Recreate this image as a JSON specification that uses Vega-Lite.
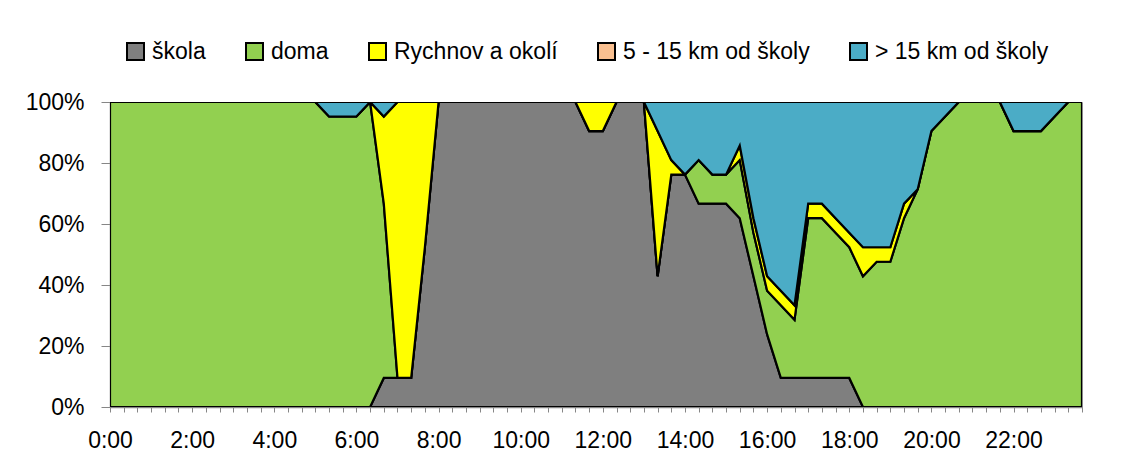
{
  "$schema": "https://vega.github.io/schema/vega-lite/v6.json",
  "width": 972,
  "height": 305,
  "autosize": {"type": "none"},
  "padding": {"left": 110, "top": 102, "right": 48, "bottom": 58},
  "background": "white",
  "config": {
    "font": "Liberation Sans",
    "view": {"stroke": "#8a8a8a", "strokeWidth": 1},
    "axis": {"grid": false, "domainColor": "#868686", "tickColor": "#868686", "labelColor": "black", "labelFontSize": 23, "labelFont": "Liberation Sans", "title": null, "zindex": 1, "domainWidth": 1.5}
  },
  "data": {"values": [
    {"t":"0:00","s":"škola","v":0},{"t":"0:00","s":"doma","v":21},{"t":"0:00","s":"Rychnov a okolí","v":0},{"t":"0:00","s":"5 - 15 km od školy","v":0},{"t":"0:00","s":"> 15 km od školy","v":0},
    {"t":"0:20","s":"škola","v":0},{"t":"0:20","s":"doma","v":21},{"t":"0:20","s":"Rychnov a okolí","v":0},{"t":"0:20","s":"5 - 15 km od školy","v":0},{"t":"0:20","s":"> 15 km od školy","v":0},
    {"t":"0:40","s":"škola","v":0},{"t":"0:40","s":"doma","v":21},{"t":"0:40","s":"Rychnov a okolí","v":0},{"t":"0:40","s":"5 - 15 km od školy","v":0},{"t":"0:40","s":"> 15 km od školy","v":0},
    {"t":"1:00","s":"škola","v":0},{"t":"1:00","s":"doma","v":21},{"t":"1:00","s":"Rychnov a okolí","v":0},{"t":"1:00","s":"5 - 15 km od školy","v":0},{"t":"1:00","s":"> 15 km od školy","v":0},
    {"t":"1:20","s":"škola","v":0},{"t":"1:20","s":"doma","v":21},{"t":"1:20","s":"Rychnov a okolí","v":0},{"t":"1:20","s":"5 - 15 km od školy","v":0},{"t":"1:20","s":"> 15 km od školy","v":0},
    {"t":"1:40","s":"škola","v":0},{"t":"1:40","s":"doma","v":21},{"t":"1:40","s":"Rychnov a okolí","v":0},{"t":"1:40","s":"5 - 15 km od školy","v":0},{"t":"1:40","s":"> 15 km od školy","v":0},
    {"t":"2:00","s":"škola","v":0},{"t":"2:00","s":"doma","v":21},{"t":"2:00","s":"Rychnov a okolí","v":0},{"t":"2:00","s":"5 - 15 km od školy","v":0},{"t":"2:00","s":"> 15 km od školy","v":0},
    {"t":"2:20","s":"škola","v":0},{"t":"2:20","s":"doma","v":21},{"t":"2:20","s":"Rychnov a okolí","v":0},{"t":"2:20","s":"5 - 15 km od školy","v":0},{"t":"2:20","s":"> 15 km od školy","v":0},
    {"t":"2:40","s":"škola","v":0},{"t":"2:40","s":"doma","v":21},{"t":"2:40","s":"Rychnov a okolí","v":0},{"t":"2:40","s":"5 - 15 km od školy","v":0},{"t":"2:40","s":"> 15 km od školy","v":0},
    {"t":"3:00","s":"škola","v":0},{"t":"3:00","s":"doma","v":21},{"t":"3:00","s":"Rychnov a okolí","v":0},{"t":"3:00","s":"5 - 15 km od školy","v":0},{"t":"3:00","s":"> 15 km od školy","v":0},
    {"t":"3:20","s":"škola","v":0},{"t":"3:20","s":"doma","v":21},{"t":"3:20","s":"Rychnov a okolí","v":0},{"t":"3:20","s":"5 - 15 km od školy","v":0},{"t":"3:20","s":"> 15 km od školy","v":0},
    {"t":"3:40","s":"škola","v":0},{"t":"3:40","s":"doma","v":21},{"t":"3:40","s":"Rychnov a okolí","v":0},{"t":"3:40","s":"5 - 15 km od školy","v":0},{"t":"3:40","s":"> 15 km od školy","v":0},
    {"t":"4:00","s":"škola","v":0},{"t":"4:00","s":"doma","v":21},{"t":"4:00","s":"Rychnov a okolí","v":0},{"t":"4:00","s":"5 - 15 km od školy","v":0},{"t":"4:00","s":"> 15 km od školy","v":0},
    {"t":"4:20","s":"škola","v":0},{"t":"4:20","s":"doma","v":21},{"t":"4:20","s":"Rychnov a okolí","v":0},{"t":"4:20","s":"5 - 15 km od školy","v":0},{"t":"4:20","s":"> 15 km od školy","v":0},
    {"t":"4:40","s":"škola","v":0},{"t":"4:40","s":"doma","v":21},{"t":"4:40","s":"Rychnov a okolí","v":0},{"t":"4:40","s":"5 - 15 km od školy","v":0},{"t":"4:40","s":"> 15 km od školy","v":0},
    {"t":"5:00","s":"škola","v":0},{"t":"5:00","s":"doma","v":21},{"t":"5:00","s":"Rychnov a okolí","v":0},{"t":"5:00","s":"5 - 15 km od školy","v":0},{"t":"5:00","s":"> 15 km od školy","v":0},
    {"t":"5:20","s":"škola","v":0},{"t":"5:20","s":"doma","v":20},{"t":"5:20","s":"Rychnov a okolí","v":0},{"t":"5:20","s":"5 - 15 km od školy","v":0},{"t":"5:20","s":"> 15 km od školy","v":1},
    {"t":"5:40","s":"škola","v":0},{"t":"5:40","s":"doma","v":20},{"t":"5:40","s":"Rychnov a okolí","v":0},{"t":"5:40","s":"5 - 15 km od školy","v":0},{"t":"5:40","s":"> 15 km od školy","v":1},
    {"t":"6:00","s":"škola","v":0},{"t":"6:00","s":"doma","v":20},{"t":"6:00","s":"Rychnov a okolí","v":0},{"t":"6:00","s":"5 - 15 km od školy","v":0},{"t":"6:00","s":"> 15 km od školy","v":1},
    {"t":"6:20","s":"škola","v":0},{"t":"6:20","s":"doma","v":21},{"t":"6:20","s":"Rychnov a okolí","v":0},{"t":"6:20","s":"5 - 15 km od školy","v":0},{"t":"6:20","s":"> 15 km od školy","v":0},
    {"t":"6:40","s":"škola","v":2},{"t":"6:40","s":"doma","v":12},{"t":"6:40","s":"Rychnov a okolí","v":6},{"t":"6:40","s":"5 - 15 km od školy","v":0},{"t":"6:40","s":"> 15 km od školy","v":1},
    {"t":"7:00","s":"škola","v":2},{"t":"7:00","s":"doma","v":0},{"t":"7:00","s":"Rychnov a okolí","v":19},{"t":"7:00","s":"5 - 15 km od školy","v":0},{"t":"7:00","s":"> 15 km od školy","v":0},
    {"t":"7:20","s":"škola","v":2},{"t":"7:20","s":"doma","v":0},{"t":"7:20","s":"Rychnov a okolí","v":19},{"t":"7:20","s":"5 - 15 km od školy","v":0},{"t":"7:20","s":"> 15 km od školy","v":0},
    {"t":"7:40","s":"škola","v":11},{"t":"7:40","s":"doma","v":0},{"t":"7:40","s":"Rychnov a okolí","v":10},{"t":"7:40","s":"5 - 15 km od školy","v":0},{"t":"7:40","s":"> 15 km od školy","v":0},
    {"t":"8:00","s":"škola","v":21},{"t":"8:00","s":"doma","v":0},{"t":"8:00","s":"Rychnov a okolí","v":0},{"t":"8:00","s":"5 - 15 km od školy","v":0},{"t":"8:00","s":"> 15 km od školy","v":0},
    {"t":"8:20","s":"škola","v":21},{"t":"8:20","s":"doma","v":0},{"t":"8:20","s":"Rychnov a okolí","v":0},{"t":"8:20","s":"5 - 15 km od školy","v":0},{"t":"8:20","s":"> 15 km od školy","v":0},
    {"t":"8:40","s":"škola","v":21},{"t":"8:40","s":"doma","v":0},{"t":"8:40","s":"Rychnov a okolí","v":0},{"t":"8:40","s":"5 - 15 km od školy","v":0},{"t":"8:40","s":"> 15 km od školy","v":0},
    {"t":"9:00","s":"škola","v":21},{"t":"9:00","s":"doma","v":0},{"t":"9:00","s":"Rychnov a okolí","v":0},{"t":"9:00","s":"5 - 15 km od školy","v":0},{"t":"9:00","s":"> 15 km od školy","v":0},
    {"t":"9:20","s":"škola","v":21},{"t":"9:20","s":"doma","v":0},{"t":"9:20","s":"Rychnov a okolí","v":0},{"t":"9:20","s":"5 - 15 km od školy","v":0},{"t":"9:20","s":"> 15 km od školy","v":0},
    {"t":"9:40","s":"škola","v":21},{"t":"9:40","s":"doma","v":0},{"t":"9:40","s":"Rychnov a okolí","v":0},{"t":"9:40","s":"5 - 15 km od školy","v":0},{"t":"9:40","s":"> 15 km od školy","v":0},
    {"t":"10:00","s":"škola","v":21},{"t":"10:00","s":"doma","v":0},{"t":"10:00","s":"Rychnov a okolí","v":0},{"t":"10:00","s":"5 - 15 km od školy","v":0},{"t":"10:00","s":"> 15 km od školy","v":0},
    {"t":"10:20","s":"škola","v":21},{"t":"10:20","s":"doma","v":0},{"t":"10:20","s":"Rychnov a okolí","v":0},{"t":"10:20","s":"5 - 15 km od školy","v":0},{"t":"10:20","s":"> 15 km od školy","v":0},
    {"t":"10:40","s":"škola","v":21},{"t":"10:40","s":"doma","v":0},{"t":"10:40","s":"Rychnov a okolí","v":0},{"t":"10:40","s":"5 - 15 km od školy","v":0},{"t":"10:40","s":"> 15 km od školy","v":0},
    {"t":"11:00","s":"škola","v":21},{"t":"11:00","s":"doma","v":0},{"t":"11:00","s":"Rychnov a okolí","v":0},{"t":"11:00","s":"5 - 15 km od školy","v":0},{"t":"11:00","s":"> 15 km od školy","v":0},
    {"t":"11:20","s":"škola","v":21},{"t":"11:20","s":"doma","v":0},{"t":"11:20","s":"Rychnov a okolí","v":0},{"t":"11:20","s":"5 - 15 km od školy","v":0},{"t":"11:20","s":"> 15 km od školy","v":0},
    {"t":"11:40","s":"škola","v":19},{"t":"11:40","s":"doma","v":0},{"t":"11:40","s":"Rychnov a okolí","v":2},{"t":"11:40","s":"5 - 15 km od školy","v":0},{"t":"11:40","s":"> 15 km od školy","v":0},
    {"t":"12:00","s":"škola","v":19},{"t":"12:00","s":"doma","v":0},{"t":"12:00","s":"Rychnov a okolí","v":2},{"t":"12:00","s":"5 - 15 km od školy","v":0},{"t":"12:00","s":"> 15 km od školy","v":0},
    {"t":"12:20","s":"škola","v":21},{"t":"12:20","s":"doma","v":0},{"t":"12:20","s":"Rychnov a okolí","v":0},{"t":"12:20","s":"5 - 15 km od školy","v":0},{"t":"12:20","s":"> 15 km od školy","v":0},
    {"t":"12:40","s":"škola","v":21},{"t":"12:40","s":"doma","v":0},{"t":"12:40","s":"Rychnov a okolí","v":0},{"t":"12:40","s":"5 - 15 km od školy","v":0},{"t":"12:40","s":"> 15 km od školy","v":0},
    {"t":"13:00","s":"škola","v":21},{"t":"13:00","s":"doma","v":0},{"t":"13:00","s":"Rychnov a okolí","v":0},{"t":"13:00","s":"5 - 15 km od školy","v":0},{"t":"13:00","s":"> 15 km od školy","v":0},
    {"t":"13:20","s":"škola","v":9},{"t":"13:20","s":"doma","v":0},{"t":"13:20","s":"Rychnov a okolí","v":10},{"t":"13:20","s":"5 - 15 km od školy","v":0},{"t":"13:20","s":"> 15 km od školy","v":2},
    {"t":"13:40","s":"škola","v":16},{"t":"13:40","s":"doma","v":0},{"t":"13:40","s":"Rychnov a okolí","v":1},{"t":"13:40","s":"5 - 15 km od školy","v":0},{"t":"13:40","s":"> 15 km od školy","v":4},
    {"t":"14:00","s":"škola","v":16},{"t":"14:00","s":"doma","v":0},{"t":"14:00","s":"Rychnov a okolí","v":0},{"t":"14:00","s":"5 - 15 km od školy","v":0},{"t":"14:00","s":"> 15 km od školy","v":5},
    {"t":"14:20","s":"škola","v":14},{"t":"14:20","s":"doma","v":3},{"t":"14:20","s":"Rychnov a okolí","v":0},{"t":"14:20","s":"5 - 15 km od školy","v":0},{"t":"14:20","s":"> 15 km od školy","v":4},
    {"t":"14:40","s":"škola","v":14},{"t":"14:40","s":"doma","v":2},{"t":"14:40","s":"Rychnov a okolí","v":0},{"t":"14:40","s":"5 - 15 km od školy","v":0},{"t":"14:40","s":"> 15 km od školy","v":5},
    {"t":"15:00","s":"škola","v":14},{"t":"15:00","s":"doma","v":2},{"t":"15:00","s":"Rychnov a okolí","v":0},{"t":"15:00","s":"5 - 15 km od školy","v":0},{"t":"15:00","s":"> 15 km od školy","v":5},
    {"t":"15:20","s":"škola","v":13},{"t":"15:20","s":"doma","v":4},{"t":"15:20","s":"Rychnov a okolí","v":1},{"t":"15:20","s":"5 - 15 km od školy","v":0},{"t":"15:20","s":"> 15 km od školy","v":3},
    {"t":"15:40","s":"škola","v":9},{"t":"15:40","s":"doma","v":3},{"t":"15:40","s":"Rychnov a okolí","v":1},{"t":"15:40","s":"5 - 15 km od školy","v":0},{"t":"15:40","s":"> 15 km od školy","v":8},
    {"t":"16:00","s":"škola","v":5},{"t":"16:00","s":"doma","v":3},{"t":"16:00","s":"Rychnov a okolí","v":1},{"t":"16:00","s":"5 - 15 km od školy","v":0},{"t":"16:00","s":"> 15 km od školy","v":12},
    {"t":"16:20","s":"škola","v":2},{"t":"16:20","s":"doma","v":5},{"t":"16:20","s":"Rychnov a okolí","v":1},{"t":"16:20","s":"5 - 15 km od školy","v":0},{"t":"16:20","s":"> 15 km od školy","v":13},
    {"t":"16:40","s":"škola","v":2},{"t":"16:40","s":"doma","v":4},{"t":"16:40","s":"Rychnov a okolí","v":1},{"t":"16:40","s":"5 - 15 km od školy","v":0},{"t":"16:40","s":"> 15 km od školy","v":14},
    {"t":"17:00","s":"škola","v":2},{"t":"17:00","s":"doma","v":11},{"t":"17:00","s":"Rychnov a okolí","v":1},{"t":"17:00","s":"5 - 15 km od školy","v":0},{"t":"17:00","s":"> 15 km od školy","v":7},
    {"t":"17:20","s":"škola","v":2},{"t":"17:20","s":"doma","v":11},{"t":"17:20","s":"Rychnov a okolí","v":1},{"t":"17:20","s":"5 - 15 km od školy","v":0},{"t":"17:20","s":"> 15 km od školy","v":7},
    {"t":"17:40","s":"škola","v":2},{"t":"17:40","s":"doma","v":10},{"t":"17:40","s":"Rychnov a okolí","v":1},{"t":"17:40","s":"5 - 15 km od školy","v":0},{"t":"17:40","s":"> 15 km od školy","v":8},
    {"t":"18:00","s":"škola","v":2},{"t":"18:00","s":"doma","v":9},{"t":"18:00","s":"Rychnov a okolí","v":1},{"t":"18:00","s":"5 - 15 km od školy","v":0},{"t":"18:00","s":"> 15 km od školy","v":9},
    {"t":"18:20","s":"škola","v":0},{"t":"18:20","s":"doma","v":9},{"t":"18:20","s":"Rychnov a okolí","v":2},{"t":"18:20","s":"5 - 15 km od školy","v":0},{"t":"18:20","s":"> 15 km od školy","v":10},
    {"t":"18:40","s":"škola","v":0},{"t":"18:40","s":"doma","v":10},{"t":"18:40","s":"Rychnov a okolí","v":1},{"t":"18:40","s":"5 - 15 km od školy","v":0},{"t":"18:40","s":"> 15 km od školy","v":10},
    {"t":"19:00","s":"škola","v":0},{"t":"19:00","s":"doma","v":10},{"t":"19:00","s":"Rychnov a okolí","v":1},{"t":"19:00","s":"5 - 15 km od školy","v":0},{"t":"19:00","s":"> 15 km od školy","v":10},
    {"t":"19:20","s":"škola","v":0},{"t":"19:20","s":"doma","v":13},{"t":"19:20","s":"Rychnov a okolí","v":1},{"t":"19:20","s":"5 - 15 km od školy","v":0},{"t":"19:20","s":"> 15 km od školy","v":7},
    {"t":"19:40","s":"škola","v":0},{"t":"19:40","s":"doma","v":15},{"t":"19:40","s":"Rychnov a okolí","v":0},{"t":"19:40","s":"5 - 15 km od školy","v":0},{"t":"19:40","s":"> 15 km od školy","v":6},
    {"t":"20:00","s":"škola","v":0},{"t":"20:00","s":"doma","v":19},{"t":"20:00","s":"Rychnov a okolí","v":0},{"t":"20:00","s":"5 - 15 km od školy","v":0},{"t":"20:00","s":"> 15 km od školy","v":2},
    {"t":"20:20","s":"škola","v":0},{"t":"20:20","s":"doma","v":20},{"t":"20:20","s":"Rychnov a okolí","v":0},{"t":"20:20","s":"5 - 15 km od školy","v":0},{"t":"20:20","s":"> 15 km od školy","v":1},
    {"t":"20:40","s":"škola","v":0},{"t":"20:40","s":"doma","v":21},{"t":"20:40","s":"Rychnov a okolí","v":0},{"t":"20:40","s":"5 - 15 km od školy","v":0},{"t":"20:40","s":"> 15 km od školy","v":0},
    {"t":"21:00","s":"škola","v":0},{"t":"21:00","s":"doma","v":21},{"t":"21:00","s":"Rychnov a okolí","v":0},{"t":"21:00","s":"5 - 15 km od školy","v":0},{"t":"21:00","s":"> 15 km od školy","v":0},
    {"t":"21:20","s":"škola","v":0},{"t":"21:20","s":"doma","v":21},{"t":"21:20","s":"Rychnov a okolí","v":0},{"t":"21:20","s":"5 - 15 km od školy","v":0},{"t":"21:20","s":"> 15 km od školy","v":0},
    {"t":"21:40","s":"škola","v":0},{"t":"21:40","s":"doma","v":21},{"t":"21:40","s":"Rychnov a okolí","v":0},{"t":"21:40","s":"5 - 15 km od školy","v":0},{"t":"21:40","s":"> 15 km od školy","v":0},
    {"t":"22:00","s":"škola","v":0},{"t":"22:00","s":"doma","v":19},{"t":"22:00","s":"Rychnov a okolí","v":0},{"t":"22:00","s":"5 - 15 km od školy","v":0},{"t":"22:00","s":"> 15 km od školy","v":2},
    {"t":"22:20","s":"škola","v":0},{"t":"22:20","s":"doma","v":19},{"t":"22:20","s":"Rychnov a okolí","v":0},{"t":"22:20","s":"5 - 15 km od školy","v":0},{"t":"22:20","s":"> 15 km od školy","v":2},
    {"t":"22:40","s":"škola","v":0},{"t":"22:40","s":"doma","v":19},{"t":"22:40","s":"Rychnov a okolí","v":0},{"t":"22:40","s":"5 - 15 km od školy","v":0},{"t":"22:40","s":"> 15 km od školy","v":2},
    {"t":"23:00","s":"škola","v":0},{"t":"23:00","s":"doma","v":20},{"t":"23:00","s":"Rychnov a okolí","v":0},{"t":"23:00","s":"5 - 15 km od školy","v":0},{"t":"23:00","s":"> 15 km od školy","v":1},
    {"t":"23:20","s":"škola","v":0},{"t":"23:20","s":"doma","v":21},{"t":"23:20","s":"Rychnov a okolí","v":0},{"t":"23:20","s":"5 - 15 km od školy","v":0},{"t":"23:20","s":"> 15 km od školy","v":0},
    {"t":"23:40","s":"škola","v":0},{"t":"23:40","s":"doma","v":21},{"t":"23:40","s":"Rychnov a okolí","v":0},{"t":"23:40","s":"5 - 15 km od školy","v":0},{"t":"23:40","s":"> 15 km od školy","v":0}
  ]},
  "mark": {"type": "area", "stroke": "black", "strokeWidth": 2.2, "strokeJoin": "miter", "opacity": 1, "fillOpacity": 1, "clip": true, "interpolate": "linear"},
  "encoding": {
    "x": {
      "field": "t", "type": "ordinal", "sort": null,
      "scale": {"type": "point", "padding": 0},
      "axis": {
        "labelAngle": 0, "tickSize": 5, "labelPadding": 17,
        "labelExpr": "indexof(['0:00','2:00','4:00','6:00','8:00','10:00','12:00','14:00','16:00','18:00','20:00','22:00'], datum.value) >= 0 ? datum.value : ''"
      }
    },
    "y": {
      "field": "v", "type": "quantitative", "stack": "normalize",
      "scale": {"domain": [0, 1]},
      "axis": {"format": ".0%", "values": [0, 0.2, 0.4, 0.6, 0.8, 1], "tickSize": 9, "labelPadding": 17}
    },
    "color": {
      "field": "s", "type": "nominal",
      "sort": ["škola", "doma", "Rychnov a okolí", "5 - 15 km od školy", "> 15 km od školy"],
      "scale": {
        "domain": ["škola", "doma", "Rychnov a okolí", "5 - 15 km od školy", "> 15 km od školy"],
        "range": ["#7f7f7f", "#92d050", "#ffff00", "#fac090", "#4bacc6"]
      },
      "legend": {
        "title": null, "orient": "none", "direction": "horizontal",
        "legendX": 14, "legendY": -62,
        "symbolType": "square", "symbolSize": 289, "symbolStrokeColor": "black", "symbolStrokeWidth": 2,
        "symbolOpacity": 1, "symbolFillOpacity": 1,
        "labelFontSize": 23, "labelFont": "Liberation Sans", "labelColor": "black", "labelOffset": 5, "labelLimit": 0,
        "columnPadding": 36
      }
    }
  }
}
